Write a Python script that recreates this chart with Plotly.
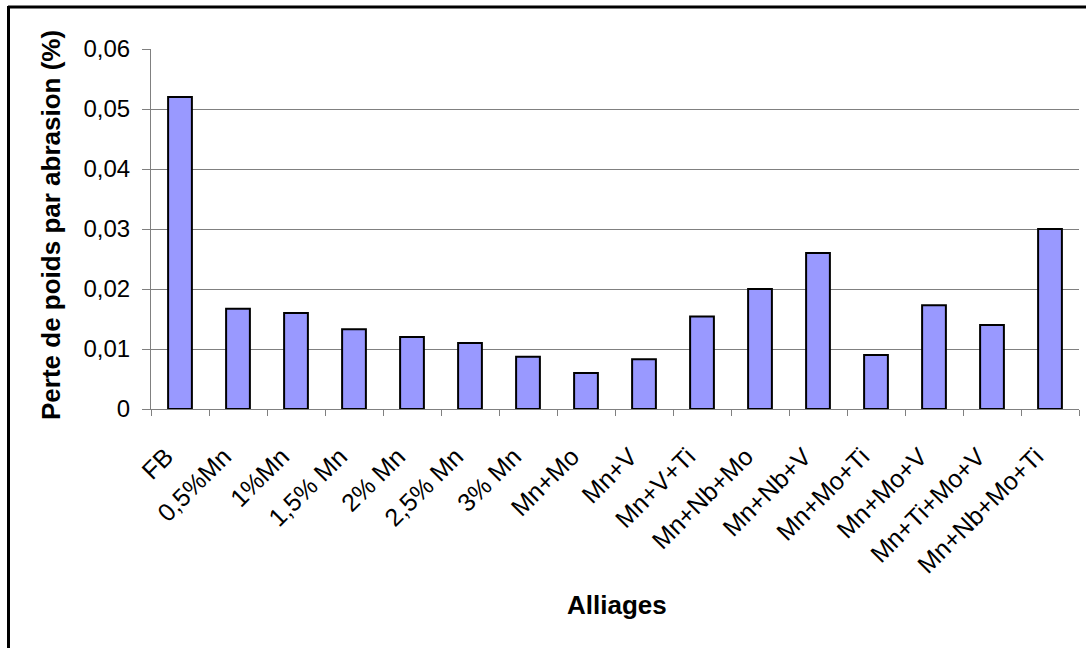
import plotly.graph_objects as go

ALLIAGES = [
    "FB", "0,5%Mn", "1%Mn", "1,5% Mn", "2% Mn", "2,5% Mn", "3% Mn", "Mn+Mo",
    "Mn+V", "Mn+V+Ti", "Mn+Nb+Mo", "Mn+Nb+V", "Mn+Mo+Ti", "Mn+Mo+V",
    "Mn+Ti+Mo+V", "Mn+Nb+Mo+Ti",
]
PERTE = [
    0.052, 0.0167, 0.016, 0.0133, 0.012, 0.011, 0.0087, 0.006,
    0.0083, 0.0154, 0.020, 0.026, 0.009, 0.0173, 0.014, 0.030,
]

W, H = 1086, 648
L, R, T, B = 151, 1079, 49, 409


def px_x(p):
    return (p - L) / (R - L)


def px_y(p):
    return (B - p) / (B - T)


fig = go.Figure()
fig.add_bar(
    x=ALLIAGES,
    y=PERTE,
    marker=dict(color="#9999ff", line=dict(color="#000000", width=2)),
)

fig.update_layout(
    width=W,
    height=H,
    margin=dict(l=L, r=W - R, t=T, b=H - B, autoexpand=False),
    paper_bgcolor="white",
    plot_bgcolor="white",
    bargap=0.59,
    separators=", ",
    showlegend=False,
    font=dict(family="Liberation Sans, Arial", size=22, color="#000000"),
)
fig.update_xaxes(
    tickangle=-45,
    tickfont=dict(size=25),
    ticklabelstandoff=22,
    ticklabelshift=-14,
    showline=True,
    linecolor="#808080",
    linewidth=1,
    ticks="outside",
    tickson="boundaries",
    ticklen=6,
    tickcolor="#808080",
    showgrid=False,
)
fig.update_yaxes(
    range=[0, 0.06],
    dtick=0.01,
    tickformat=".2~f",
    tickfont=dict(size=24),
    ticklabelstandoff=7,
    showline=True,
    linecolor="#808080",
    linewidth=1,
    ticks="outside",
    ticklen=8,
    tickcolor="#808080",
    showgrid=True,
    gridcolor="#808080",
    gridwidth=1,
    zeroline=False,
)

fig.add_annotation(
    x=px_x(51), y=px_y(225), xref="paper", yref="paper",
    text="<b>Perte de poids par abrasion (%)</b>",
    textangle=-90, showarrow=False, font=dict(size=26),
    xanchor="center", yanchor="middle",
)
fig.add_annotation(
    x=px_x(617), y=px_y(605), xref="paper", yref="paper",
    text="<b>Alliages</b>", showarrow=False, font=dict(size=26),
    xanchor="center", yanchor="middle",
)

# cadre extérieur (haut et gauche visibles)
fig.add_shape(type="line", xref="paper", yref="paper",
              x0=px_x(8), x1=px_x(W + 10), y0=px_y(7), y1=px_y(7),
              line=dict(color="#000000", width=3))
fig.add_shape(type="line", xref="paper", yref="paper",
              x0=px_x(8.5), x1=px_x(8.5), y0=px_y(6), y1=px_y(H + 10),
              line=dict(color="#000000", width=3))

fig.write_html(
    "out.html",
    config={"displayModeBar": False},
    post_script="document.body.style.margin='0px';",
)
